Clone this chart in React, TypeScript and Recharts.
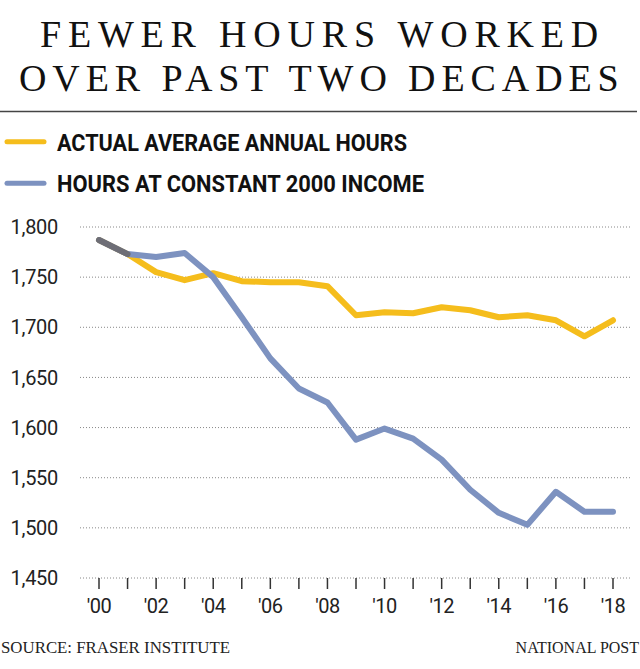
import React from "react";
import {
  LineChart,
  Line,
  XAxis,
  YAxis,
  CartesianGrid,
} from "recharts";

const years = [
  "2000", "2001", "2002", "2003", "2004", "2005", "2006", "2007", "2008", "2009",
  "2010", "2011", "2012", "2013", "2014", "2015", "2016", "2017", "2018",
];

const actualHours = [
  1787, 1773, 1755, 1747, 1754, 1746, 1745, 1745, 1741, 1712,
  1715, 1714, 1720, 1717, 1710, 1712, 1707, 1691, 1707,
];

const constantIncomeHours = [
  1787, 1773, 1770, 1774, 1750, 1710, 1669, 1639, 1625, 1588,
  1599, 1589, 1568, 1538, 1515, 1503, 1536, 1516, 1516,
];

// where both series sit on top of each other at the start
const overlapHours = [1787, 1773];

const yTicks = [1450, 1500, 1550, 1600, 1650, 1700, 1750, 1800];

const YELLOW = "#f5bd1c";
const BLUE = "#7d92c0";
const GRAY = "#6e6e76";

const data = years.map((y, i) => ({
  year: y,
  actual: actualHours[i],
  constant: constantIncomeHours[i],
  overlap: i < overlapHours.length ? overlapHours[i] : null,
}));

const fmtYear = (v: string) => {
  const n = Number(v);
  return n % 2 === 0 ? "'" + v.slice(2) : "";
};

export default function App() {
  return (
    <div
      style={{
        position: "absolute",
        left: 0,
        top: 0,
        width: 640,
        height: 669,
        background: "#fff",
        overflow: "hidden",
      }}
    >
      <svg
        width={640}
        height={669}
        style={{ position: "absolute", left: 0, top: 0 }}
      >
        <text
          x={40}
          y={46.7}
          fontFamily="Liberation Serif"
          fontSize={38}
          letterSpacing={6.8}
          fill="#111"
        >
          FEWER HOURS WORKED
        </text>
        <text
          x={19}
          y={90.7}
          fontFamily="Liberation Serif"
          fontSize={38}
          letterSpacing={5.9}
          fill="#111"
        >
          OVER PAST TWO DECADES
        </text>
        <line x1={0} x2={637} y1={111.5} y2={111.5} stroke="#444" strokeWidth={1.5} />

        <line x1={7} x2={44} y1={141.7} y2={141.7} stroke={YELLOW} strokeWidth={5} strokeLinecap="round" />
        <text
          x={57}
          y={150.7}
          fontFamily="Roboto"
          fontWeight={700}
          fontSize={24}
          textLength={350}
          lengthAdjust="spacingAndGlyphs"
          fill="#111"
        >
          ACTUAL AVERAGE ANNUAL HOURS
        </text>
        <line x1={7} x2={44} y1={183.3} y2={183.3} stroke={BLUE} strokeWidth={5} strokeLinecap="round" />
        <text
          x={57}
          y={192.3}
          fontFamily="Roboto"
          fontWeight={700}
          fontSize={24}
          textLength={367}
          lengthAdjust="spacingAndGlyphs"
          fill="#111"
        >
          HOURS AT CONSTANT 2000 INCOME
        </text>

        <text
          x={1}
          y={652.7}
          fontFamily="Liberation Serif"
          fontSize={16}
          textLength={229}
          lengthAdjust="spacingAndGlyphs"
          fill="#222"
        >
          SOURCE: FRASER INSTITUTE
        </text>
        <text
          x={639}
          y={652.7}
          textAnchor="end"
          fontFamily="Liberation Serif"
          fontSize={16}
          fill="#222"
        >
          NATIONAL POST
        </text>
      </svg>

      <div style={{ position: "absolute", left: 0, top: 200 }}>
        <LineChart
          width={640}
          height={440}
          data={data}
          margin={{ top: 27, right: 8, bottom: 0, left: 0 }}
        >
          <CartesianGrid
            vertical={false}
            stroke="#888"
            strokeDasharray="1 2"
          />
          <XAxis
            dataKey="year"
            interval={0}
            padding={{ left: 19, right: 19 }}
            axisLine={false}
            tickLine={{ stroke: "#333", strokeWidth: 1.5 }}
            tickSize={11}
            tickMargin={10}
            tickFormatter={fmtYear}
            height={62}
            tick={{ fontFamily: "Roboto", fontSize: 20, fill: "#222", letterSpacing: -0.5 }}
          />
          <YAxis
            domain={[1450, 1800]}
            ticks={yTicks}
            width={80}
            axisLine={false}
            tickLine={false}
            tickSize={0}
            tickMargin={22}
            tickFormatter={(v: number) => v.toLocaleString("en-US")}
            tick={{ fontFamily: "Roboto", fontSize: 20, fill: "#222", letterSpacing: -0.3 }}
          />
          <Line
            dataKey="actual"
            type="linear"
            stroke={YELLOW}
            strokeWidth={6}
            dot={false}
            strokeLinejoin="round"
            strokeLinecap="round"
            isAnimationActive={false}
          />
          <Line
            dataKey="constant"
            type="linear"
            stroke={BLUE}
            strokeWidth={6}
            dot={false}
            strokeLinejoin="round"
            strokeLinecap="round"
            isAnimationActive={false}
          />
          <Line
            dataKey="overlap"
            type="linear"
            stroke={GRAY}
            strokeWidth={6}
            dot={false}
            strokeLinecap="round"
            connectNulls={false}
            isAnimationActive={false}
          />
        </LineChart>
      </div>
    </div>
  );
}
